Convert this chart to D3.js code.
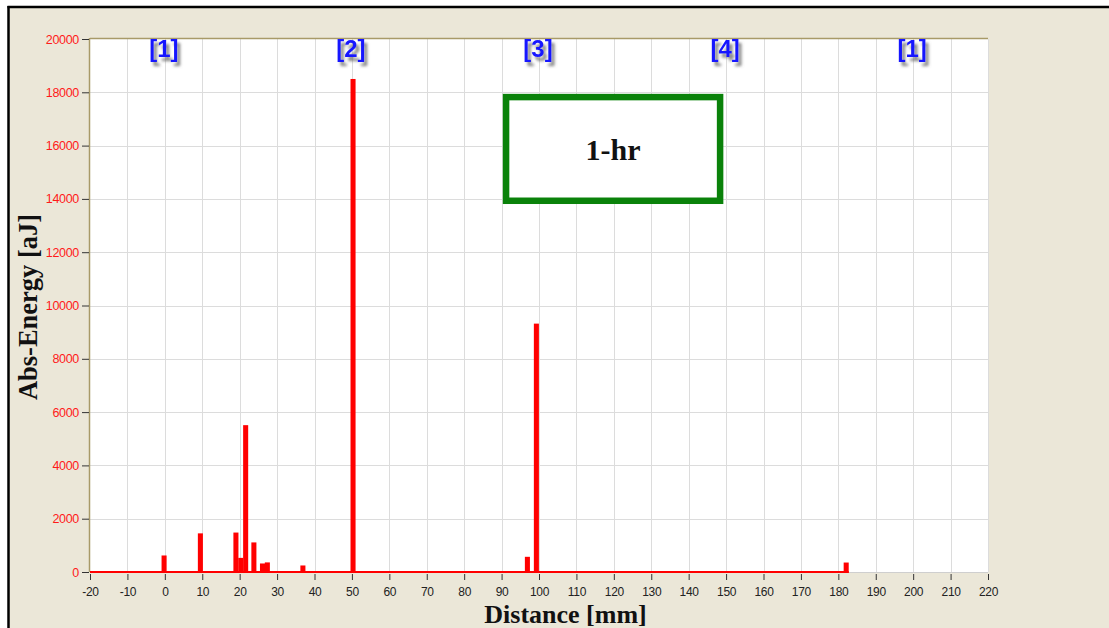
<!DOCTYPE html>
<html>
<head>
<meta charset="utf-8">
<script src="https://cdn.jsdelivr.net/npm/d3@7"></script>
<style>
  html, body { margin: 0; padding: 0; background: #ffffff; }
  svg { display: block; }
</style>
</head>
<body>
<svg id="chart" width="1109" height="628"></svg>
<script>
// Acoustic emission energy located along the specimen, 1 hour of monitoring
const binCenters = [-0.2, 9.5, 19.0, 20.3, 21.6, 23.8, 26.1, 27.4, 36.9, 50.3, 96.9, 99.3, 182.1];
const binEnergy  = [620, 1450, 1480, 530, 5510, 1110, 320, 360, 245, 18500, 570, 9320, 355];
const binWidth = 1.35; // mm

const xTicks = [-20, -10, 0, 10, 20, 30, 40, 50, 60, 70, 80, 90, 100, 110, 120, 130, 140, 150, 160, 170, 180, 190, 200, 210, 220];
const yTicks = [0, 2000, 4000, 6000, 8000, 10000, 12000, 14000, 16000, 18000, 20000];

// Sensor zones marked along the top of the plot
const zoneLabels = ["[1]", "[2]", "[3]", "[4]", "[1]"];
const zonePositions = [0, 50, 100, 150, 200];

const boxLabel = "1-hr";
const boxCorners = [[91.2, 17820], [148.4, 13930]]; // data-space corners of the label box

const svg = d3.select("#chart");
const W = 1109, H = 628;
const plot = { left: 90, right: 988, top: 39, bottom: 572 };

const x = d3.scaleLinear().domain([-20, 220]).range([plot.left, plot.right]);
const y = d3.scaleLinear().domain([0, 20000]).range([plot.bottom, plot.top]);

// Shadow for zone labels
const defs = svg.append("defs");
const f = defs.append("filter").attr("id", "zoneShadow")
  .attr("x", "-30%").attr("y", "-30%").attr("width", "160%").attr("height", "160%");
f.append("feGaussianBlur").attr("in", "SourceAlpha").attr("stdDeviation", 1.6).attr("result", "blur");
f.append("feOffset").attr("in", "blur").attr("dx", 3).attr("dy", 4).attr("result", "off");
f.append("feFlood").attr("flood-color", "#6a6a6a").attr("flood-opacity", 0.85).attr("result", "col");
f.append("feComposite").attr("in", "col").attr("in2", "off").attr("operator", "in").attr("result", "shadow");
const m = f.append("feMerge");
m.append("feMergeNode").attr("in", "shadow");
m.append("feMergeNode").attr("in", "SourceGraphic");

// Window background and frame
svg.append("rect").attr("x", 9).attr("y", 7).attr("width", W).attr("height", H)
  .attr("fill", "#ebe7d8");
svg.append("line").attr("x1", 7.5).attr("x2", W).attr("y1", 7).attr("y2", 7)
  .attr("stroke", "#000").attr("stroke-width", 2.5);
svg.append("line").attr("x1", 8.5).attr("x2", 8.5).attr("y1", 6).attr("y2", H)
  .attr("stroke", "#000").attr("stroke-width", 2.5);

// Plot area
svg.append("rect").attr("x", plot.left).attr("y", plot.top)
  .attr("width", plot.right - plot.left).attr("height", plot.bottom - plot.top)
  .attr("fill", "#ffffff");

// Grid
const grid = svg.append("g").attr("stroke", "#dcdcdc").attr("stroke-width", 1);
grid.selectAll("line.v").data(xTicks.slice(1)).join("line")
  .attr("x1", d => Math.round(x(d)) + 0.5).attr("x2", d => Math.round(x(d)) + 0.5)
  .attr("y1", plot.top).attr("y2", plot.bottom);
grid.selectAll("line.h").data(yTicks.slice(1, -1)).join("line")
  .attr("x1", plot.left).attr("x2", plot.right)
  .attr("y1", d => Math.round(y(d)) + 0.5).attr("y2", d => Math.round(y(d)) + 0.5);
grid.append("line").attr("x1", plot.left).attr("x2", plot.right)
  .attr("y1", plot.bottom + 0.5).attr("y2", plot.bottom + 0.5).attr("stroke", "#cfcfcf");

// Plot border (top and left)
svg.append("line").attr("x1", plot.left).attr("x2", plot.right)
  .attr("y1", plot.top - 0.5).attr("y2", plot.top - 0.5)
  .attr("stroke", "#a89a68").attr("stroke-width", 1.5);
svg.append("line").attr("x1", plot.left - 0.5).attr("x2", plot.left - 0.5)
  .attr("y1", plot.top - 1).attr("y2", plot.bottom)
  .attr("stroke", "#a89a68").attr("stroke-width", 1.5);

// Zero line of the energy series, up to the last located bin
const lastEdge = binCenters[binCenters.length - 1] + binWidth / 2;
svg.append("line").attr("x1", x(-20)).attr("x2", x(lastEdge))
  .attr("y1", y(0)).attr("y2", y(0))
  .attr("stroke", "#ff0000").attr("stroke-width", 2);

// Energy bars
const bins = binCenters.map((c, i) => ({ c, v: binEnergy[i] }));
svg.append("g").selectAll("rect").data(bins).join("rect")
  .attr("x", d => x(d.c - binWidth / 2))
  .attr("width", d => x(d.c + binWidth / 2) - x(d.c - binWidth / 2))
  .attr("y", d => y(d.v))
  .attr("height", d => y(0) - y(d.v) + 1)
  .attr("fill", "#ff0000");

// Axes
const xAxis = svg.append("g").attr("transform", `translate(0,${plot.bottom + 1})`)
  .call(d3.axisBottom(x).tickValues(xTicks).tickSize(7).tickPadding(7).tickFormat(d => String(d)));
xAxis.select(".domain").remove();
xAxis.selectAll(".tick line").attr("stroke", "#333").attr("y1", 1);
xAxis.selectAll(".tick text").attr("fill", "#222")
  .style("font-family", "'Liberation Sans', Arial, sans-serif").style("font-size", "12px")
  .style("letter-spacing", "-0.3px");

const yAxis = svg.append("g").attr("transform", `translate(${plot.left - 1},0)`)
  .call(d3.axisLeft(y).tickValues(yTicks).tickSize(7).tickPadding(3).tickFormat(d => String(d)));
yAxis.select(".domain").remove();
yAxis.selectAll(".tick line").attr("stroke", "#333");
yAxis.selectAll(".tick text").attr("fill", "#ff1a1a")
  .style("font-family", "'Liberation Sans', Arial, sans-serif").style("font-size", "12.5px")
  .style("letter-spacing", "-0.3px");

// Axis titles
svg.append("text")
  .attr("x", 565.5).attr("y", 623)
  .attr("text-anchor", "middle")
  .style("font-family", "'Liberation Serif', 'Times New Roman', serif")
  .style("font-weight", "bold").style("font-size", "26px").attr("fill", "#111")
  .text("Distance [mm]");
svg.append("text")
  .attr("transform", "translate(37,307) rotate(-90)")
  .attr("text-anchor", "middle")
  .style("font-family", "'Liberation Serif', 'Times New Roman', serif")
  .style("font-weight", "bold").style("font-size", "26.5px").attr("fill", "#111")
  .text("Abs-Energy [aJ]");

// Zone labels
svg.append("g").selectAll("text").data(zoneLabels).join("text")
  .attr("x", (d, i) => x(zonePositions[i]) - 1)
  .attr("y", 57)
  .attr("text-anchor", "middle")
  .attr("filter", "url(#zoneShadow)")
  .style("font-family", "'Liberation Sans', Arial, sans-serif")
  .style("font-weight", "bold").style("font-size", "24px")
  .attr("fill", "#1414ff")
  .text(d => d);

// Label box
const bx0 = x(boxCorners[0][0]), bx1 = x(boxCorners[1][0]);
const by0 = y(boxCorners[0][1]), by1 = y(boxCorners[1][1]);
svg.append("rect")
  .attr("x", bx0).attr("y", by0).attr("width", bx1 - bx0).attr("height", by1 - by0)
  .attr("fill", "#ffffff").attr("stroke", "#0a820a").attr("stroke-width", 6.5);
svg.append("text")
  .attr("x", (bx0 + bx1) / 2).attr("y", (by0 + by1) / 2 + 11)
  .attr("text-anchor", "middle")
  .style("font-family", "'Liberation Serif', 'Times New Roman', serif")
  .style("font-weight", "bold").style("font-size", "30px").attr("fill", "#111")
  .text(boxLabel);
</script>
</body>
</html>
